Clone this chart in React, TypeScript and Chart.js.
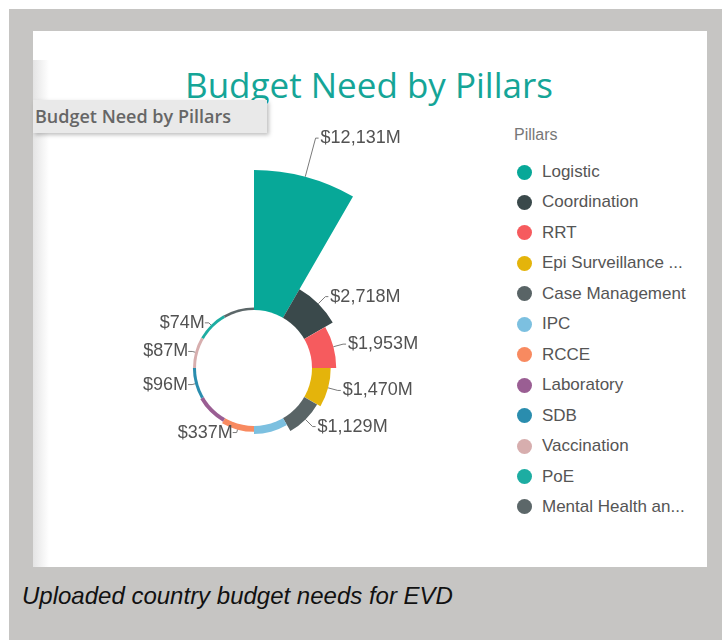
import React, { useEffect, useRef } from "react";
import { Chart, registerables } from "chart.js";

Chart.register(...registerables);

const pillars = [
  "Logistic",
  "Coordination",
  "RRT",
  "Epi Surveillance ...",
  "Case Management",
  "IPC",
  "RCCE",
  "Laboratory",
  "SDB",
  "Vaccination",
  "PoE",
  "Mental Health an...",
];
const budgetM = [12131, 2718, 1953, 1470, 1129, 520, 337, 180, 96, 87, 74, 45];
const pillarColors = [
  "#07A898",
  "#3A494B",
  "#F65B5E",
  "#E4B40B",
  "#596466",
  "#7CC0E0",
  "#F88A60",
  "#9A5E93",
  "#2A8DAE",
  "#D7AEAE",
  "#1DADA2",
  "#5C6769",
];
const labelHidden = ["IPC", "Laboratory", "Mental Health an..."];

const titleText = "Budget Need by Pillars";
const legendTitle = "Pillars";
const captionText = "Uploaded country budget needs for EVD";

const fmt = (v: number) => "$" + v.toLocaleString("en-US") + "M";

// geometry of the radial scale (pixels)
const R = 200;
const innerPx = 60;
const outerPx = 198;

const holeAndLabels = {
  id: "holeAndLabels",
  afterDatasetsDraw(chart: any) {
    const ctx = chart.ctx as CanvasRenderingContext2D;
    const scale = chart.scales.r;
    const cx = scale.xCenter;
    const cy = scale.yCenter;
    const r0 = scale.getDistanceFromCenterForValue(0) - 2;
    ctx.save();
    ctx.fillStyle = "#ffffff";
    ctx.beginPath();
    ctx.arc(cx, cy, r0, 0, Math.PI * 2);
    ctx.fill();

    const meta = chart.getDatasetMeta(0);
    ctx.font = "18px 'Liberation Sans', Arial, sans-serif";
    ctx.textBaseline = "middle";
    ctx.lineWidth = 1;
    meta.data.forEach((arc: any, i: number) => {
      if (labelHidden.includes(pillars[i])) return;
      const p = arc.getProps(["startAngle", "endAngle", "outerRadius"], true);
      const mid = (p.startAngle + p.endAngle) / 2;
      const c = Math.cos(mid);
      const s = Math.sin(mid);
      const right = c >= 0;
      const L = p.outerRadius > 150 ? 40 : right ? 10 : 3;
      const x1 = cx + c * p.outerRadius;
      const y1 = cy + s * p.outerRadius;
      const x2 = cx + c * (p.outerRadius + L);
      const y2 = cy + s * (p.outerRadius + L);
      ctx.strokeStyle = "#7a7a7a";
      ctx.beginPath();
      ctx.moveTo(x1, y1);
      ctx.lineTo(x2, y2);
      ctx.lineTo(x2 + (right ? 3 : -4), y2);
      ctx.stroke();
      ctx.fillStyle = "#525252";
      ctx.textAlign = right ? "left" : "right";
      ctx.fillText(fmt(budgetM[i]), x2 + (right ? 5 : -4), y2);
    });
    ctx.restore();
  },
};

function PolarChart() {
  const ref = useRef<HTMLCanvasElement | null>(null);
  useEffect(() => {
    if (!ref.current) return;
    const maxVal = Math.max(...budgetM);
    const perUnit = (outerPx - innerPx) / maxVal;
    const rMin = -innerPx / perUnit;
    const rMax = rMin + R / perUnit;
    const chart = new Chart(ref.current, {
      type: "polarArea",
      data: {
        labels: pillars,
        datasets: [
          {
            data: budgetM,
            backgroundColor: pillarColors,
            borderWidth: 0,
          },
        ],
      },
      options: {
        animation: false,
        responsive: false,
        maintainAspectRatio: false,
        layout: { padding: { left: 54, top: 168, right: 271, bottom: 72 } },
        plugins: {
          legend: { display: false },
          tooltip: { enabled: false },
        },
        scales: {
          r: {
            display: false,
            min: rMin,
            max: rMax,
          },
        },
      },
      plugins: [holeAndLabels],
    } as any);
    return () => chart.destroy();
  }, []);
  return (
    <canvas
      ref={ref}
      width={725}
      height={640}
      style={{ position: "absolute", left: 0, top: 0, width: 725, height: 640 }}
    />
  );
}

export default function App() {
  const sans = "'Liberation Sans', Arial, sans-serif";
  return (
    <div
      style={{
        position: "absolute",
        left: 0,
        top: 0,
        width: 725,
        height: 640,
        overflow: "hidden",
        background: "#ffffff",
      }}
    >
      <div
        style={{
          position: "absolute",
          left: 9,
          top: 9,
          width: 713,
          height: 631,
          background: "#c6c5c3",
        }}
      />
      <div
        style={{
          position: "absolute",
          left: 33,
          top: 31,
          width: 674,
          height: 536,
          background: "#ffffff",
        }}
      />
      <div
        style={{
          position: "absolute",
          left: 33,
          top: 60,
          width: 16,
          height: 507,
          background: "linear-gradient(to right, #e4e4e4, rgba(255,255,255,0))",
        }}
      />
      <div
        style={{
          position: "absolute",
          left: 69,
          top: 67,
          width: 600,
          textAlign: "center",
          fontFamily: "'Open Sans', sans-serif",
          fontSize: 35,
          lineHeight: "35px",
          color: "#15a597",
          whiteSpace: "nowrap",
        }}
      >
        {titleText}
      </div>
      <div
        style={{
          position: "absolute",
          left: 33,
          top: 100,
          width: 234,
          height: 33,
          background: "#e9e9e9",
          boxShadow: "2px 2px 4px rgba(0,0,0,0.25)",
        }}
      />
      <div
        style={{
          position: "absolute",
          left: 35,
          top: 107,
          fontFamily: "'Open Sans', sans-serif",
          fontWeight: 600,
          fontSize: 18,
          lineHeight: "18px",
          color: "#666666",
          whiteSpace: "nowrap",
        }}
      >
        {titleText}
      </div>
      <div
        style={{
          position: "absolute",
          left: 514,
          top: 135 - 9,
          fontFamily: sans,
          fontSize: 16,
          lineHeight: "18px",
          color: "#777777",
          whiteSpace: "nowrap",
        }}
      >
        {legendTitle}
      </div>
      {pillars.map((p, i) => {
        const cy = 172 + i * 30.45;
        return (
          <React.Fragment key={p}>
            <div
              style={{
                position: "absolute",
                left: 524 - 7.5,
                top: cy - 7.5,
                width: 15,
                height: 15,
                borderRadius: "50%",
                background: pillarColors[i],
              }}
            />
            <div
              style={{
                position: "absolute",
                left: 542,
                top: cy - 10,
                fontFamily: sans,
                fontSize: 17,
                lineHeight: "20px",
                color: "#555555",
                whiteSpace: "nowrap",
              }}
            >
              {p}
            </div>
          </React.Fragment>
        );
      })}
      <div
        style={{
          position: "absolute",
          left: 22,
          top: 584,
          fontFamily: sans,
          fontStyle: "italic",
          fontSize: 24,
          lineHeight: "24px",
          color: "#111111",
          whiteSpace: "nowrap",
        }}
      >
        {captionText}
      </div>
      <PolarChart />
    </div>
  );
}
